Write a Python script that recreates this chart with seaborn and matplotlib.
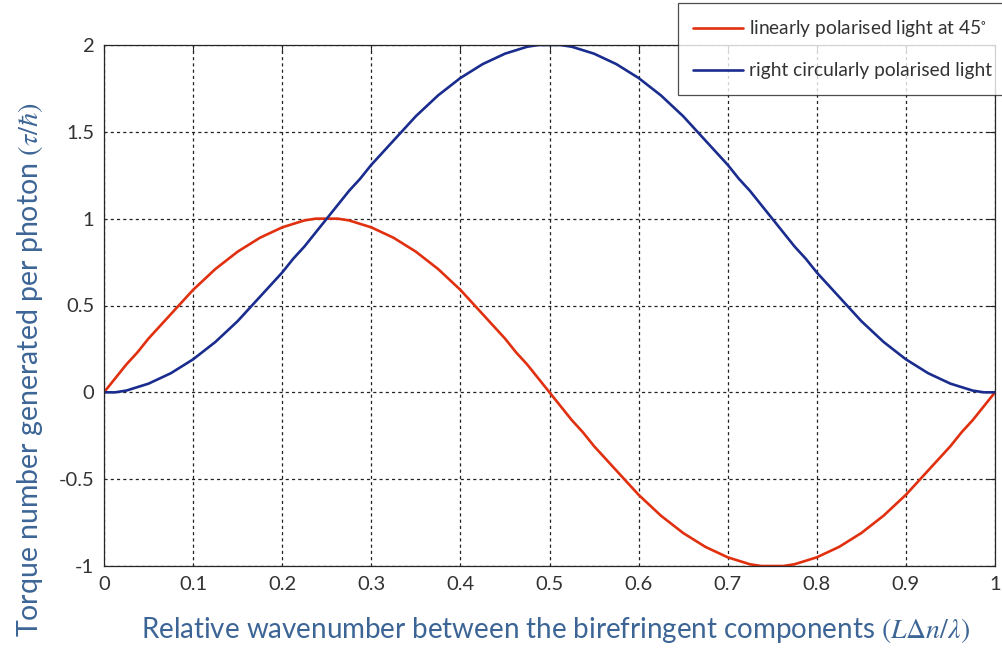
import numpy as np
import pandas as pd
import seaborn as sns
import matplotlib
matplotlib.use("Agg")
import matplotlib.pyplot as plt

# Relative wavenumber sampling grid (step 0.0125 from 0 to 1)
x_vals = list(np.linspace(0.0, 1.0, 81))

# Torque per photon, linearly polarised input at 45 degrees
linear_45 = [0.00, 0.08, 0.16, 0.23, 0.31, 0.38, 0.45, 0.52, 0.59, 0.65,
             0.71, 0.76, 0.81, 0.85, 0.89, 0.92, 0.95, 0.97, 0.99, 1.00,
             1.00, 1.00, 0.99, 0.97, 0.95, 0.92, 0.89, 0.85, 0.81, 0.76,
             0.71, 0.65, 0.59, 0.52, 0.45, 0.38, 0.31, 0.23, 0.16, 0.08,
             0.00, -0.08, -0.16, -0.23, -0.31, -0.38, -0.45, -0.52, -0.59, -0.65,
             -0.71, -0.76, -0.81, -0.85, -0.89, -0.92, -0.95, -0.97, -0.99, -1.00,
             -1.00, -1.00, -0.99, -0.97, -0.95, -0.92, -0.89, -0.85, -0.81, -0.76,
             -0.71, -0.65, -0.59, -0.52, -0.45, -0.38, -0.31, -0.23, -0.16, -0.08,
             0.00]

# Torque per photon, right circularly polarised input
right_circular = [0.00, 0.00, 0.01, 0.03, 0.05, 0.08, 0.11, 0.15, 0.19, 0.24,
                  0.29, 0.35, 0.41, 0.48, 0.55, 0.62, 0.69, 0.77, 0.84, 0.92,
                  1.00, 1.08, 1.16, 1.23, 1.31, 1.38, 1.45, 1.52, 1.59, 1.65,
                  1.71, 1.76, 1.81, 1.85, 1.89, 1.92, 1.95, 1.97, 1.99, 2.00,
                  2.00, 2.00, 1.99, 1.97, 1.95, 1.92, 1.89, 1.85, 1.81, 1.76,
                  1.71, 1.65, 1.59, 1.52, 1.45, 1.38, 1.31, 1.23, 1.16, 1.08,
                  1.00, 0.92, 0.84, 0.77, 0.69, 0.62, 0.55, 0.48, 0.41, 0.35,
                  0.29, 0.24, 0.19, 0.15, 0.11, 0.08, 0.05, 0.03, 0.01, 0.00,
                  0.00]

series_names = ["linearly polarised light at 45$^{\\circ}$",
                "right circularly polarised light"]
series_colors = ["#e0300f", "#1a2d8f"]

x_ticks = [0, 0.1, 0.2, 0.3, 0.4, 0.5, 0.6, 0.7, 0.8, 0.9, 1]
x_ticklabels = ["0", "0.1", "0.2", "0.3", "0.4", "0.5", "0.6", "0.7", "0.8", "0.9", "1"]
y_ticks = [-1, -0.5, 0, 0.5, 1, 1.5, 2]
y_ticklabels = ["-1", "-0.5", "0", "0.5", "1", "1.5", "2"]

df = pd.DataFrame({
    "x": x_vals * 2,
    "torque": linear_45 + right_circular,
    "series": [series_names[0]] * len(x_vals) + [series_names[1]] * len(x_vals),
})

sns.set_theme(style="white")
plt.rcParams["font.family"] = ["Lato", "DejaVu Sans"]
plt.rcParams["mathtext.fontset"] = "stix"

fig = plt.figure(figsize=(10.03, 6.48), dpi=100)
ax = fig.add_axes([104 / 1003, 1 - 566 / 648, 891 / 1003, 521 / 648])

sns.lineplot(data=df, x="x", y="torque", hue="series", hue_order=series_names,
             palette=series_colors, linewidth=1.9, ax=ax, legend=False, sort=False)

ax.set_xlim(0, 1)
ax.set_ylim(-1, 2)
ax.set_xticks(x_ticks)
ax.set_xticklabels(x_ticklabels)
ax.set_yticks(y_ticks)
ax.set_yticklabels(y_ticklabels)
ax.set_xlabel("")
ax.set_ylabel("")
ax.tick_params(axis="both", direction="in", length=5, width=0.8, colors="#262626",
               labelsize=14.5, labelcolor="#333333", top=True, right=True, pad=7)
ax.grid(True, color="#222222", linestyle=(0, (2.5, 2.5)), linewidth=0.9)
for sp in ax.spines.values():
    sp.set_color("#262626")
    sp.set_linewidth(0.9)

label_color = "#3c6596"
fig.text(30 / 1003, 1 - 369 / 648,
         "Torque number generated per photon $(\\tau/\\hbar)$",
         rotation=90, ha="center", va="center", fontsize=20.5, color=label_color)
fig.text(556 / 1003, 1 - 630 / 648,
         "Relative wavenumber between the birefringent components $(L\\Delta n/\\lambda)$",
         ha="center", va="center", fontsize=20, color=label_color)

handles = [plt.Line2D([], [], color=c, linewidth=1.9) for c in series_colors]
leg = fig.legend(handles, series_names, loc="upper left",
                 bbox_to_anchor=(678 / 1003, 1 - 3 / 648), fontsize=13.8,
                 frameon=True, fancybox=False, edgecolor="#222222",
                 handlelength=2.6, handletextpad=0.3, borderpad=0.8,
                 labelspacing=1.2, borderaxespad=0)
leg.get_frame().set_linewidth(0.9)
for t in leg.get_texts():
    t.set_color("#333333")

fig.savefig("out.png", dpi=100, facecolor="white")
